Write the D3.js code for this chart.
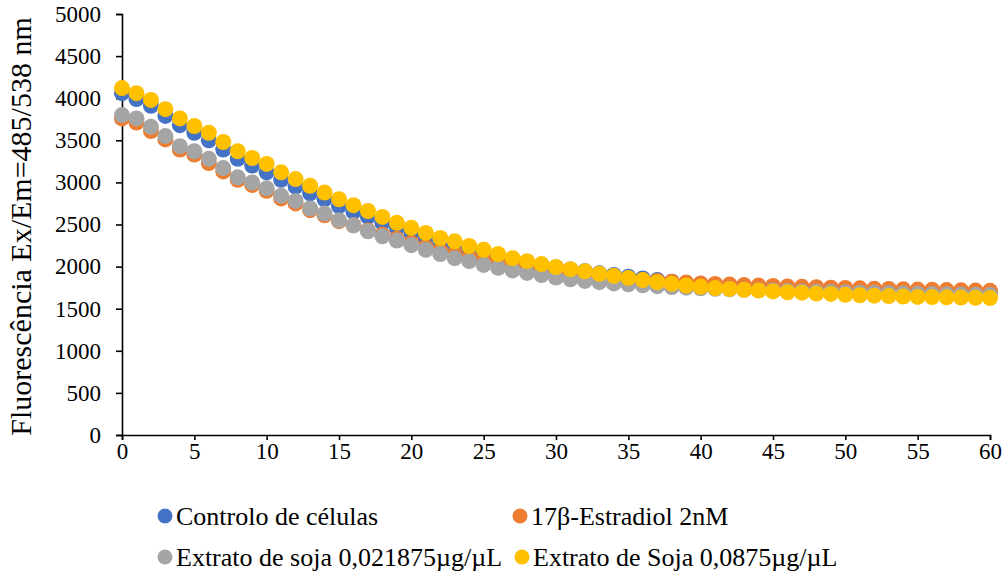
<!DOCTYPE html>
<html>
<head>
<meta charset="utf-8">
<script src="https://cdn.jsdelivr.net/npm/d3@7"></script>
<style>
  body { margin: 0; background: #fff; }
  svg { display: block; }
</style>
</head>
<body>
<svg id="chart" width="1006" height="578"></svg>
<script>
// minutes 0..60
const minutes = d3.range(0, 61);

const controlo = [4060, 3990, 3910, 3790, 3680, 3590, 3500, 3390, 3280, 3200,
  3120, 3030, 2950, 2870, 2800, 2720, 2650, 2590, 2520, 2460,
  2400, 2345, 2290, 2250, 2200, 2160, 2120, 2080, 2045, 2015,
  1990, 1965, 1945, 1920, 1900, 1880, 1860, 1840, 1820, 1800,
  1785, 1770, 1760, 1750, 1745, 1740, 1735, 1730, 1725, 1720,
  1715, 1712, 1710, 1708, 1705, 1703, 1700, 1698, 1696, 1694, 1692];

const estradiol = [3760, 3710, 3610, 3510, 3390, 3330, 3230, 3130, 3030, 2970,
  2900, 2810, 2750, 2670, 2610, 2540, 2490, 2430, 2380, 2330,
  2280, 2230, 2190, 2150, 2110, 2070, 2040, 2010, 1985, 1960,
  1940, 1920, 1900, 1885, 1870, 1855, 1840, 1830, 1820, 1810,
  1800, 1793, 1786, 1780, 1775, 1770, 1765, 1760, 1755, 1750,
  1746, 1742, 1738, 1734, 1730, 1727, 1724, 1721, 1718, 1715, 1712];

const sojaBaixa = [3800, 3760, 3660, 3550, 3430, 3370, 3280, 3170, 3060, 3000,
  2930, 2840, 2780, 2690, 2630, 2550, 2490, 2420, 2360, 2310,
  2255, 2200, 2150, 2100, 2065, 2020, 1985, 1955, 1925, 1900,
  1870, 1850, 1830, 1815, 1800, 1790, 1778, 1768, 1758, 1750,
  1742, 1736, 1730, 1725, 1720, 1715, 1710, 1705, 1700, 1697,
  1693, 1690, 1687, 1684, 1680, 1677, 1674, 1671, 1668, 1665, 1662];

const sojaAlta = [4120, 4060, 3980, 3870, 3760, 3670, 3590, 3480, 3370, 3290,
  3220, 3120, 3040, 2960, 2880, 2800, 2730, 2660, 2590, 2520,
  2460, 2400, 2340, 2300, 2245, 2200, 2150, 2100, 2065, 2030,
  1995, 1970, 1945, 1915, 1890, 1865, 1840, 1815, 1795, 1775,
  1760, 1745, 1735, 1725, 1715, 1705, 1695, 1690, 1680, 1675,
  1665, 1660, 1655, 1650, 1645, 1640, 1638, 1635, 1632, 1630, 1627];

const seriesNames = ["Controlo de células", "17β-Estradiol 2nM",
  "Extrato de soja 0,021875µg/µL", "Extrato de Soja 0,0875µg/µL"];
const seriesValues = [controlo, estradiol, sojaBaixa, sojaAlta];
const colors = ["#4472C4", "#ED7D31", "#A5A5A5", "#FFC000"];

const xTicks = d3.range(0, 61, 5);
const yTicks = d3.range(0, 5001, 500);

const svg = d3.select("#chart");
const margin = { left: 122, right: 16, top: 14, bottom: 143 };
const width = 1006, height = 578;

const x = d3.scaleLinear().domain([0, 60]).range([margin.left, width - margin.right]);
const y = d3.scaleLinear().domain([0, 5000]).range([height - margin.bottom, margin.top]);

const txtFont = "'Liberation Serif', 'Times New Roman', serif";

// axes
const yAxis = d3.axisLeft(y).tickValues(yTicks).tickSize(6).tickPadding(15).tickFormat(d3.format("d"));
const xAxis = d3.axisBottom(x).tickValues(xTicks).tickSize(5).tickPadding(3).tickFormat(d3.format("d"));

const gy = svg.append("g").attr("transform", "translate(" + margin.left + ",0)").call(yAxis);
const gx = svg.append("g").attr("transform", "translate(0," + y(0) + ")").call(xAxis);

[gx, gy].forEach(g => {
  g.select(".domain").attr("stroke", "#000").attr("stroke-width", 1.6);
  g.selectAll(".tick line").attr("stroke", "#000").attr("stroke-width", 1.6);
  g.selectAll(".tick text").attr("fill", "#000")
    .style("font-family", txtFont).style("font-size", "23px");
});

// y title
svg.append("text")
  .attr("transform", "translate(31," + ((margin.top + y(0)) / 2 + 2) + ") rotate(-90)")
  .attr("text-anchor", "middle")
  .style("font-family", txtFont)
  .style("font-size", "30px")
  .attr("fill", "#000")
  .text("Fluorescência Ex/Em=485/538 nm");

// markers
seriesValues.forEach((vals, si) => {
  svg.append("g").selectAll("circle")
    .data(minutes)
    .enter().append("circle")
      .attr("cx", d => x(d))
      .attr("cy", (d, i) => y(vals[i]))
      .attr("r", 8)
      .attr("fill", colors[si]);
});

// legend
const legPos = [[165, 516], [520, 516], [165, 557], [522, 557]];
const legend = svg.selectAll(".legend")
  .data(seriesNames)
  .enter().append("g")
  .attr("class", "legend")
  .attr("transform", (d, i) => "translate(" + legPos[i][0] + "," + legPos[i][1] + ")");

legend.append("circle")
  .attr("r", 7.5)
  .attr("fill", (d, i) => colors[i]);

legend.append("text")
  .attr("x", 11)
  .attr("dy", "0.35em")
  .style("font-family", txtFont)
  .style("font-size", "26px")
  .attr("fill", "#000")
  .text(d => d);
</script>
</body>
</html>
